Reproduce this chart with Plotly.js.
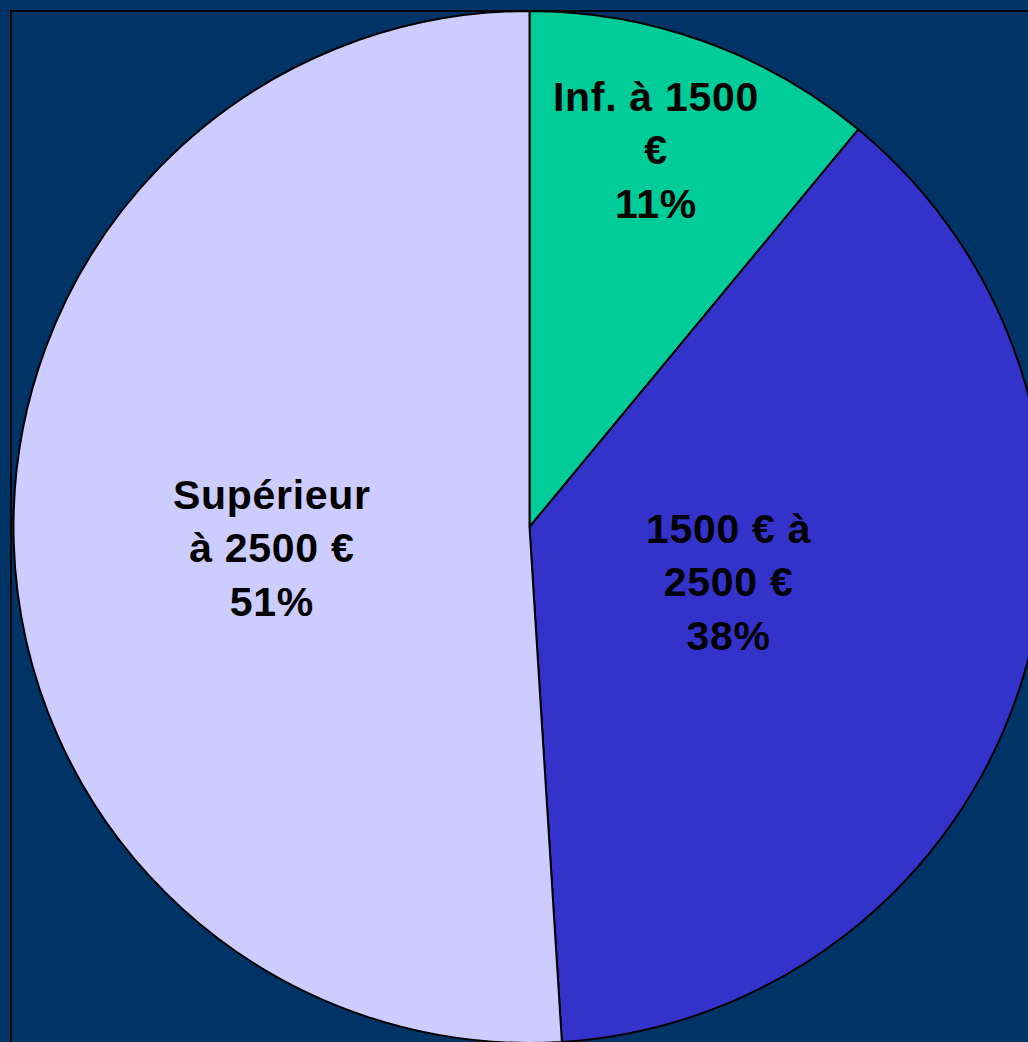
<!DOCTYPE html>
<html><head><meta charset="utf-8">
<script src="https://cdn.plot.ly/plotly-3.0.1.min.js"></script>
<style>html,body{margin:0;padding:0;overflow:hidden;background:#003366;}#c{width:1100px;height:1100px;}
.annotation-text{letter-spacing:0.7px;}</style>
</head><body><div id="c"></div>
<script>
const categories = ["Inf. à 1500 €", "1500 € à 2500 €", "Supérieur à 2500 €"];
const labelText = ["Inf. à 1500<br>€<br>11%", "1500 € à<br>2500 €<br>38%", "Supérieur<br>à 2500 €<br>51%"];
const values = [11, 38, 51];
const colors = ["#00CC99", "#3333CC", "#CCCCFF"];

// layout (positions / styles)
const W = 1100, H = 1100;
const cx = 529.5, cy = 527, r = 516;
const labelRadius = [0.77, 0.40, 0.50];
const labelAngleShift = [-1.3, -2.3, -3];

const total = values.reduce((a, b) => a + b, 0);
let cum = 0;
const annotations = values.map((v, i) => {
  const mid = (cum + v / 2) / total * 360 + labelAngleShift[i];
  cum += v;
  const t = mid * Math.PI / 180;
  const px = cx + labelRadius[i] * r * Math.sin(t);
  const py = cy - labelRadius[i] * r * Math.cos(t);
  return {
    xref: 'paper', yref: 'paper', x: px / W, y: 1 - py / H,
    xanchor: 'center', yanchor: 'middle', showarrow: false,
    text: labelText[i], align: 'center',
    font: {family: 'Liberation Sans, Arial, sans-serif', size: 41, color: '#000000', weight: 'bold'}
  };
});

Plotly.newPlot('c', [{
  type: 'pie',
  labels: categories,
  values: values,
  textinfo: 'none',
  hoverinfo: 'label+percent',
  sort: false,
  direction: 'clockwise',
  rotation: 0,
  marker: {colors: colors, line: {color: '#000000', width: 2}},
  domain: {x: [(cx - r) / W, (cx + r) / W], y: [1 - (cy + r) / H, 1 - (cy - r) / H]}
}], {
  width: W, height: H,
  margin: {l: 0, r: 0, t: 0, b: 0},
  paper_bgcolor: '#003366',
  showlegend: false,
  annotations: annotations,
  shapes: [{type: 'rect', xref: 'paper', yref: 'paper', x0: 11 / W, x1: 1.2, y0: -0.2, y1: 1 - 11 / H,
    line: {color: '#000000', width: 2}, layer: 'below'}]
}, {displayModeBar: false, staticPlot: true});
</script></body></html>
